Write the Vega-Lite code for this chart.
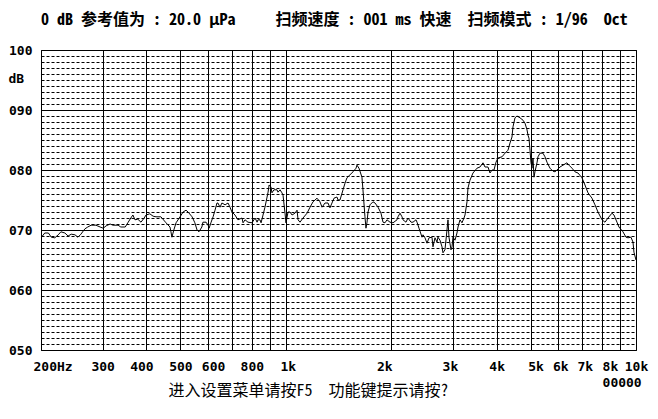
{
  "$schema": "https://vega.github.io/schema/vega-lite/v6.json",
  "width": 595,
  "height": 300,
  "autosize": "none",
  "padding": {"left": 41, "top": 50, "right": 22, "bottom": 69},
  "background": "white",
  "config": {
    "view": {"stroke": "black", "strokeWidth": 1},
    "axis": {"labelColor": "black", "titleColor": "black"}
  },
  "title": {
    "text": "0 dB 参考值为 : 20.0 μPa\u00a0\u00a0\u00a0\u00a0\u00a0扫频速度 : 001 ms 快速\u00a0\u00a0扫频模式 : 1/96\u00a0\u00a0Oct",
    "anchor": "start",
    "frame": "group",
    "font": "Noto Sans Mono CJK SC, Noto Sans CJK SC, DejaVu Sans Mono",
    "fontSize": 16,
    "fontWeight": "bold",
    "color": "black",
    "offset": 3,
    "baseline": "alphabetic"
  },
  "data": {
    "values": [
      {"f": 200, "db": 68.7}, {"f": 205, "db": 69.5}, {"f": 210, "db": 69.5}, {"f": 214, "db": 68.8},
      {"f": 219, "db": 68.7}, {"f": 224, "db": 69.2}, {"f": 228, "db": 69.7}, {"f": 234, "db": 69.5},
      {"f": 239, "db": 69.0}, {"f": 244, "db": 69.3}, {"f": 250, "db": 69.2}, {"f": 255, "db": 68.8},
      {"f": 260, "db": 69.3}, {"f": 267, "db": 70.2}, {"f": 272, "db": 70.5}, {"f": 278, "db": 70.8},
      {"f": 287, "db": 70.8}, {"f": 295, "db": 70.5}, {"f": 301, "db": 70.3}, {"f": 307, "db": 70.7},
      {"f": 315, "db": 71.0}, {"f": 321, "db": 70.8}, {"f": 332, "db": 70.8}, {"f": 338, "db": 70.5},
      {"f": 348, "db": 70.5}, {"f": 354, "db": 71.2}, {"f": 361, "db": 72.0}, {"f": 366, "db": 72.5},
      {"f": 371, "db": 71.7}, {"f": 378, "db": 71.8}, {"f": 386, "db": 71.3}, {"f": 394, "db": 72.0},
      {"f": 399, "db": 72.5}, {"f": 409, "db": 72.7}, {"f": 418, "db": 72.3}, {"f": 426, "db": 72.2},
      {"f": 440, "db": 72.2}, {"f": 455, "db": 71.2}, {"f": 467, "db": 70.5}, {"f": 470, "db": 69.7},
      {"f": 473, "db": 68.8}, {"f": 479, "db": 70.0}, {"f": 486, "db": 71.2}, {"f": 499, "db": 72.2},
      {"f": 509, "db": 73.0}, {"f": 519, "db": 73.3}, {"f": 526, "db": 73.0}, {"f": 540, "db": 72.2},
      {"f": 550, "db": 71.2}, {"f": 558, "db": 70.0}, {"f": 565, "db": 69.7}, {"f": 576, "db": 70.5},
      {"f": 580, "db": 71.3}, {"f": 592, "db": 71.3}, {"f": 600, "db": 70.8}, {"f": 604, "db": 70.3},
      {"f": 612, "db": 71.3}, {"f": 620, "db": 72.2}, {"f": 628, "db": 73.3}, {"f": 636, "db": 74.5},
      {"f": 640, "db": 74.5}, {"f": 649, "db": 73.8}, {"f": 657, "db": 74.5}, {"f": 671, "db": 74.2},
      {"f": 684, "db": 74.5}, {"f": 693, "db": 73.8}, {"f": 702, "db": 73.0}, {"f": 716, "db": 72.5},
      {"f": 730, "db": 71.7}, {"f": 750, "db": 72.0}, {"f": 755, "db": 71.2}, {"f": 765, "db": 71.7},
      {"f": 780, "db": 71.3}, {"f": 801, "db": 71.2}, {"f": 817, "db": 72.0}, {"f": 828, "db": 71.3},
      {"f": 833, "db": 71.7}, {"f": 844, "db": 71.7}, {"f": 850, "db": 71.2}, {"f": 861, "db": 72.5},
      {"f": 872, "db": 73.8}, {"f": 890, "db": 76.3}, {"f": 896, "db": 77.5}, {"f": 907, "db": 77.2},
      {"f": 913, "db": 76.2}, {"f": 925, "db": 76.7}, {"f": 944, "db": 76.7}, {"f": 950, "db": 76.3},
      {"f": 963, "db": 76.7}, {"f": 975, "db": 76.2}, {"f": 982, "db": 75.8}, {"f": 995, "db": 72.8},
      {"f": 1001, "db": 71.2}, {"f": 1015, "db": 73.0}, {"f": 1028, "db": 73.0}, {"f": 1042, "db": 72.5},
      {"f": 1062, "db": 72.8}, {"f": 1077, "db": 73.3}, {"f": 1084, "db": 71.7}, {"f": 1098, "db": 71.3},
      {"f": 1120, "db": 72.0}, {"f": 1150, "db": 72.8}, {"f": 1173, "db": 73.8}, {"f": 1196, "db": 74.7},
      {"f": 1228, "db": 75.3}, {"f": 1252, "db": 74.7}, {"f": 1269, "db": 73.8}, {"f": 1294, "db": 74.5},
      {"f": 1320, "db": 74.5}, {"f": 1337, "db": 73.7}, {"f": 1355, "db": 74.5}, {"f": 1373, "db": 75.3},
      {"f": 1400, "db": 75.5}, {"f": 1410, "db": 75.0}, {"f": 1428, "db": 75.0}, {"f": 1457, "db": 76.7},
      {"f": 1476, "db": 77.8}, {"f": 1495, "db": 78.7}, {"f": 1525, "db": 79.2}, {"f": 1556, "db": 79.7},
      {"f": 1587, "db": 80.3}, {"f": 1597, "db": 80.8}, {"f": 1618, "db": 80.3}, {"f": 1650, "db": 78.8},
      {"f": 1661, "db": 76.7}, {"f": 1683, "db": 72.2}, {"f": 1694, "db": 70.3}, {"f": 1706, "db": 71.3},
      {"f": 1717, "db": 73.0}, {"f": 1740, "db": 74.2}, {"f": 1774, "db": 74.7}, {"f": 1798, "db": 74.5},
      {"f": 1834, "db": 73.8}, {"f": 1870, "db": 72.8}, {"f": 1895, "db": 71.3}, {"f": 1920, "db": 71.2},
      {"f": 1945, "db": 71.7}, {"f": 1984, "db": 71.3}, {"f": 2024, "db": 71.2}, {"f": 2078, "db": 71.7},
      {"f": 2091, "db": 72.2}, {"f": 2119, "db": 72.8}, {"f": 2147, "db": 72.2}, {"f": 2161, "db": 71.7},
      {"f": 2204, "db": 71.3}, {"f": 2233, "db": 72.0}, {"f": 2278, "db": 71.3}, {"f": 2308, "db": 71.3},
      {"f": 2354, "db": 71.7}, {"f": 2370, "db": 71.3}, {"f": 2401, "db": 70.3}, {"f": 2449, "db": 68.8},
      {"f": 2465, "db": 69.2}, {"f": 2497, "db": 68.7}, {"f": 2531, "db": 67.8}, {"f": 2564, "db": 68.7},
      {"f": 2615, "db": 68.8}, {"f": 2632, "db": 67.2}, {"f": 2667, "db": 68.7}, {"f": 2702, "db": 68.0},
      {"f": 2720, "db": 68.8}, {"f": 2756, "db": 68.3}, {"f": 2793, "db": 67.2}, {"f": 2811, "db": 66.2},
      {"f": 2848, "db": 66.7}, {"f": 2886, "db": 70.0}, {"f": 2905, "db": 71.7}, {"f": 2924, "db": 68.8},
      {"f": 2963, "db": 66.7}, {"f": 2983, "db": 67.2}, {"f": 3002, "db": 68.8}, {"f": 3042, "db": 68.3},
      {"f": 3082, "db": 69.5}, {"f": 3103, "db": 70.5}, {"f": 3144, "db": 71.7}, {"f": 3185, "db": 71.2},
      {"f": 3227, "db": 72.0}, {"f": 3249, "db": 72.5}, {"f": 3292, "db": 74.7}, {"f": 3313, "db": 77.0},
      {"f": 3357, "db": 78.3}, {"f": 3424, "db": 79.5}, {"f": 3515, "db": 80.3}, {"f": 3585, "db": 80.5},
      {"f": 3657, "db": 81.2}, {"f": 3705, "db": 80.5}, {"f": 3779, "db": 80.5}, {"f": 3829, "db": 79.5},
      {"f": 3880, "db": 80.0}, {"f": 3931, "db": 80.0}, {"f": 3983, "db": 81.3}, {"f": 4036, "db": 82.0},
      {"f": 4144, "db": 82.2}, {"f": 4226, "db": 82.8}, {"f": 4310, "db": 83.3}, {"f": 4367, "db": 84.5},
      {"f": 4425, "db": 85.5}, {"f": 4454, "db": 87.2}, {"f": 4513, "db": 88.7}, {"f": 4573, "db": 89.0},
      {"f": 4664, "db": 88.7}, {"f": 4757, "db": 88.3}, {"f": 4820, "db": 87.8}, {"f": 4884, "db": 86.7},
      {"f": 4916, "db": 85.8}, {"f": 4948, "db": 85.3}, {"f": 4981, "db": 83.3}, {"f": 5014, "db": 81.2},
      {"f": 5047, "db": 80.3}, {"f": 5080, "db": 82.0}, {"f": 5114, "db": 78.8}, {"f": 5147, "db": 79.7},
      {"f": 5215, "db": 81.2}, {"f": 5250, "db": 82.2}, {"f": 5319, "db": 82.8}, {"f": 5425, "db": 82.8},
      {"f": 5497, "db": 82.2}, {"f": 5570, "db": 81.3}, {"f": 5681, "db": 80.3}, {"f": 5794, "db": 79.8},
      {"f": 5871, "db": 79.7}, {"f": 5948, "db": 80.0}, {"f": 6067, "db": 80.5}, {"f": 6188, "db": 80.8},
      {"f": 6352, "db": 81.2}, {"f": 6437, "db": 80.8}, {"f": 6565, "db": 80.3}, {"f": 6695, "db": 79.7},
      {"f": 6829, "db": 79.5}, {"f": 7011, "db": 78.7}, {"f": 7150, "db": 77.5}, {"f": 7293, "db": 76.2},
      {"f": 7487, "db": 75.3}, {"f": 7636, "db": 74.2}, {"f": 7788, "db": 73.0}, {"f": 7996, "db": 71.7},
      {"f": 8155, "db": 71.3}, {"f": 8317, "db": 72.0}, {"f": 8539, "db": 72.8}, {"f": 8652, "db": 72.5},
      {"f": 8824, "db": 71.3}, {"f": 8941, "db": 70.5}, {"f": 9179, "db": 69.7}, {"f": 9362, "db": 68.8},
      {"f": 9486, "db": 68.7}, {"f": 9675, "db": 68.8}, {"f": 9803, "db": 68.0}, {"f": 9867, "db": 66.3},
      {"f": 10000, "db": 65.0}
    ]
  },
  "mark": {"type": "line", "color": "black", "strokeWidth": 1, "interpolate": "linear", "clip": true},
  "encoding": {
    "x": {
      "field": "f",
      "type": "quantitative",
      "scale": {"type": "log", "domain": [200, 10000], "nice": false},
      "axis": {
        "values": [200, 300, 400, 500, 600, 700, 800, 900, 1000, 2000, 3000, 4000, 5000, 6000, 7000, 8000, 9000, 10000],
        "grid": true,
        "gridColor": "black",
        "gridOpacity": 1,
        "gridWidth": 1,
        "ticks": false,
        "domain": false,
        "labelExpr": "datum.value == 200 ? '200Hz' : (datum.value == 700 || datum.value == 900 || datum.value == 9000) ? '' : datum.value == 8000 ? ['8k', '00000'] : datum.value >= 1000 ? (datum.value / 1000) + 'k' : '' + datum.value",
        "labelFont": "DejaVu Sans Mono",
        "labelFontWeight": "bold",
        "labelFontSize": 13,
        "labelLineHeight": 16,
        "labelPadding": 10,
        "labelBaseline": "top",
        "labelFlush": false,
        "labelOverlap": false,
        "labelBound": false,
        "labelAlign": {"condition": {"test": "datum.value == 200 || datum.value == 8000", "value": "left"}, "value": "center"},
        "labelOffset": {
          "condition": [
            {"test": "datum.value == 200", "value": -8},
            {"test": "datum.value == 400", "value": -5},
            {"test": "datum.value == 600", "value": 5},
            {"test": "datum.value == 1000", "value": 2},
            {"test": "datum.value == 2000", "value": -7},
            {"test": "datum.value == 3000", "value": -3},
            {"test": "datum.value == 5000", "value": 5},
            {"test": "datum.value == 6000", "value": 2},
            {"test": "datum.value == 7000", "value": 3}
          ],
          "value": 0
        },
        "title": "进入设置菜单请按F5\u00a0\u00a0功能键提示请按?",
        "titleFont": "Noto Sans Mono CJK SC, Noto Sans CJK SC",
        "titleFontSize": 16,
        "titleFontWeight": "normal",
        "titleX": 127,
        "titleY": 40,
        "titleAlign": "left",
        "titleBaseline": "middle"
      }
    },
    "y": {
      "field": "db",
      "type": "quantitative",
      "scale": {"domain": [50, 100], "nice": false, "zero": false},
      "axis": {
        "values": [50, 51, 52, 53, 54, 55, 56, 57, 58, 59, 60, 61, 62, 63, 64, 65, 66, 67, 68, 69, 70, 71, 72, 73, 74, 75, 76, 77, 78, 79, 80, 81, 82, 83, 84, 85, 86, 87, 88, 89, 90, 91, 92, 93, 94, 95, 96, 97, 98, 99, 100],
        "grid": true,
        "gridColor": "black",
        "gridOpacity": 1,
        "gridWidth": 1,
        "gridDash": {"condition": {"test": "datum.value % 10 != 0", "value": [3, 2]}, "value": []},
        "ticks": false,
        "domain": false,
        "labelExpr": "datum.value % 10 == 0 ? (datum.value < 100 ? '0' + datum.value : '' + datum.value) : ''",
        "labelFont": "DejaVu Sans Mono",
        "labelFontWeight": "bold",
        "labelFontSize": 13,
        "labelPadding": 9,
        "labelBaseline": "middle",
        "labelOverlap": false,
        "labelFlush": false,
        "title": "dB",
        "titleFont": "DejaVu Sans Mono",
        "titleFontWeight": "bold",
        "titleFontSize": 13,
        "titleAngle": 0,
        "titleX": -33,
        "titleY": 28,
        "titleAlign": "left",
        "titleBaseline": "middle"
      }
    }
  }
}
